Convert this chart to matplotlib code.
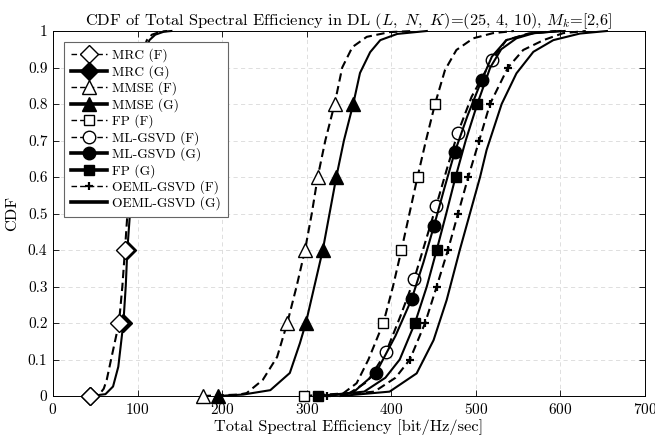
import matplotlib
matplotlib.use('Agg')
import matplotlib.pyplot as plt
from matplotlib.lines import Line2D
from matplotlib.ticker import FormatStrFormatter

plt.rcParams['font.family'] = 'serif'
plt.rcParams['font.serif'] = ['cmr10']
plt.rcParams['mathtext.fontset'] = 'cm'
plt.rcParams['axes.formatter.use_mathtext'] = True
plt.rcParams['axes.unicode_minus'] = False

# ---------------- data ----------------
labels = ['MRC (F)', 'MRC (G)', 'MMSE (F)', 'MMSE (G)', 'FP (F)',
          'ML-GSVD (F)', 'ML-GSVD (G)', 'FP (G)', 'OEML-GSVD (F)', 'OEML-GSVD (G)']

mrc_f_cdf = [0, 0.005, 0.02, 0.044, 0.108, 0.2, 0.3, 0.4, 0.5, 0.6, 0.7, 0.8, 0.9, 0.95, 0.975, 0.99, 0.998, 1]
mrc_f_x = [43.7, 55, 60, 63.5, 69.4, 78, 82, 85.1, 88, 91, 94, 97, 102, 107, 111, 117, 127, 135]
mrc_f_marks = [0, 5, 7, 9, 11]

mrc_g_cdf = [0, 0.005, 0.026, 0.08, 0.2, 0.3, 0.4, 0.5, 0.6, 0.7, 0.8, 0.9, 0.95, 0.975, 0.99, 0.998, 1]
mrc_g_x = [44, 62, 71, 77.2, 83.2, 86, 87.9, 91, 94, 97, 100, 105, 110, 114, 121, 131, 140]
mrc_g_marks = [0, 4, 6, 8, 10]

mmse_f_cdf = [0, 0.004, 0.008, 0.044, 0.107, 0.2, 0.3, 0.4, 0.5, 0.6, 0.7, 0.8, 0.9, 0.956, 0.984, 0.997, 1]
mmse_f_x = [177, 220, 229, 248, 265, 277, 288, 298, 306, 313, 322, 333, 342, 354, 371, 398, 426]
mmse_f_marks = [0, 5, 7, 9, 11]

mmse_g_cdf = [0, 0.004, 0.016, 0.063, 0.145, 0.2, 0.3, 0.4, 0.5, 0.6, 0.7, 0.8, 0.885, 0.942, 0.975, 0.992, 1]
mmse_g_x = [195, 225, 257, 280, 292, 299, 309, 319, 327, 335, 344, 355, 363, 375, 387, 407, 442]
mmse_g_marks = [0, 5, 7, 9, 11]

fp_f_cdf = [0, 0.007, 0.035, 0.1, 0.2, 0.3, 0.4, 0.5, 0.6, 0.7, 0.8, 0.893, 0.948, 0.98, 0.994, 1]
fp_f_x = [296.8, 343, 359, 373, 390.6, 402, 412, 421.5, 431, 441, 451.7, 463.5, 477, 497, 520, 545]
fp_f_marks = [0, 4, 6, 8, 10]

ml_f_cdf = [0, 0.007, 0.04, 0.12, 0.22, 0.32, 0.42, 0.52, 0.62, 0.72, 0.82, 0.92, 0.975, 0.993, 1]
ml_f_x = [318, 350, 372, 393.8, 411, 427, 440, 453, 465.5, 478.5, 495, 518.7, 536, 562, 595]
ml_f_marks = [3, 5, 7, 9, 11]

ml_g_cdf = [0, 0.01, 0.064, 0.165, 0.265, 0.366, 0.466, 0.567, 0.668, 0.767, 0.866, 0.93, 0.975, 0.993, 1]
ml_g_x = [325, 355, 382, 405, 424, 438, 450.5, 462.5, 475, 490, 507, 519, 536, 564, 600]
ml_g_marks = [2, 4, 6, 8, 10]

fp_g_cdf = [0, 0.012, 0.05, 0.1, 0.2, 0.3, 0.4, 0.5, 0.6, 0.7, 0.8, 0.9, 0.95, 0.98, 0.995, 1]
fp_g_x = [313.7, 368, 393, 410, 428, 442, 453.7, 465, 476, 488, 501.7, 517, 530, 548, 570, 605]
fp_g_marks = [0, 4, 6, 8, 10]

oeml_f_cdf = [0, 0.012, 0.05, 0.1, 0.2, 0.3, 0.4, 0.5, 0.6, 0.7, 0.8, 0.9, 0.948, 0.975, 0.994, 1]
oeml_f_x = [324, 380, 405, 422, 440, 453.7, 467, 479, 491, 504, 516.7, 538, 556, 580, 603, 630]
oeml_f_marks = [0, 3, 4, 5, 6, 7, 8, 9, 10, 11]

oeml_g_cdf = [0, 0.012, 0.062, 0.153, 0.263, 0.4, 0.5, 0.6, 0.674, 0.8, 0.884, 0.943, 0.975, 0.993, 1]
oeml_g_x = [340, 398, 430, 450, 465.5, 481, 493, 505, 512.7, 530.5, 548, 568, 591.6, 623, 655]
oeml_g_marks = []

x_ticks = [0, 100, 200, 300, 400, 500, 600, 700]
y_ticks = [0, 0.1, 0.2, 0.3, 0.4, 0.5, 0.6, 0.7, 0.8, 0.9, 1]

# ---------------- styles ----------------
# (x, cdf, marker indices, marker, face, dashed, marker size, marker edge width, zorder)
series = [
    (mrc_f_x, mrc_f_cdf, mrc_f_marks, 'D', 'white', True, 9, 1.0, 3.5),
    (mrc_g_x, mrc_g_cdf, mrc_g_marks, 'D', 'black', False, 9, 1.0, 3),
    (mmse_f_x, mmse_f_cdf, mmse_f_marks, '^', 'white', True, 10, 1.0, 3),
    (mmse_g_x, mmse_g_cdf, mmse_g_marks, '^', 'black', False, 10, 1.0, 3),
    (fp_f_x, fp_f_cdf, fp_f_marks, 's', 'white', True, 7, 1.0, 3),
    (ml_f_x, ml_f_cdf, ml_f_marks, 'o', 'white', True, 9, 1.0, 3),
    (ml_g_x, ml_g_cdf, ml_g_marks, 'o', 'black', False, 9, 1.0, 3),
    (fp_g_x, fp_g_cdf, fp_g_marks, 's', 'black', False, 7, 1.0, 3),
    (oeml_f_x, oeml_f_cdf, oeml_f_marks, '+', 'black', True, 6, 1.6, 3),
    (oeml_g_x, oeml_g_cdf, oeml_g_marks, 'None', 'black', False, 8, 1.0, 3),
]

fig = plt.figure(figsize=(6.55, 4.42), dpi=100)
ax = fig.add_axes([53 / 655, 1 - 396 / 442, 592 / 655, 365 / 442])

handles = []
for (xs, ys, marks, mk, fc, dashed, ms, mew, zo), lab in zip(series, labels):
    ls = '--' if dashed else '-'
    ln, = ax.plot(xs, ys, color='black', lw=1.5, ls=ls, marker=mk if marks else 'None',
                  markevery=marks if marks else None, markersize=ms,
                  markerfacecolor=fc, markeredgecolor='black', markeredgewidth=mew,
                  clip_on=False, zorder=zo)
    if dashed:
        ln.set_dashes((4, 2.2))
    h = Line2D([], [], color='black', lw=1.0 if dashed else 2.6, ls=ls, marker=mk,
               markersize=ms, markerfacecolor=fc, markeredgecolor='black',
               markeredgewidth=mew)
    if dashed:
        h.set_dashes((4, 2.2))
    handles.append(h)

ax.set_xlim(0, 700)
ax.set_ylim(0, 1)
ax.set_xticks(x_ticks)
ax.set_yticks(y_ticks)
ax.yaxis.set_major_formatter(FormatStrFormatter('%g'))
ax.tick_params(direction='in', length=4, width=0.6, top=True, right=True,
               labelsize=11, pad=4)
ax.grid(True, ls=(0, (5, 4)), color='#d9d9d9', lw=0.6)
ax.set_axisbelow(True)
for s in ax.spines.values():
    s.set_linewidth(0.7)

ax.set_title(r'CDF of Total Spectral Efficiency in DL $(L,\ N,\ K)$=(25, 4, 10), $M_k$=[2,6]',
             fontsize=11.8, pad=4)
ax.set_xlabel('Total Spectral Efficiency [bit/Hz/sec]', fontsize=11.8, labelpad=2)
ax.set_ylabel('CDF', fontsize=11.8, labelpad=6)

leg = ax.legend(handles, labels, loc='upper left', bbox_to_anchor=(11 / 592, 1 - 11 / 365),
                borderaxespad=0, fontsize=9.7, handlelength=2.7, handletextpad=0.4,
                labelspacing=0.2, borderpad=0.5, fancybox=False, framealpha=1,
                edgecolor='0.4')
leg.get_frame().set_linewidth(0.8)
leg.set_zorder(5)

fig.savefig('out.png', dpi=100)
